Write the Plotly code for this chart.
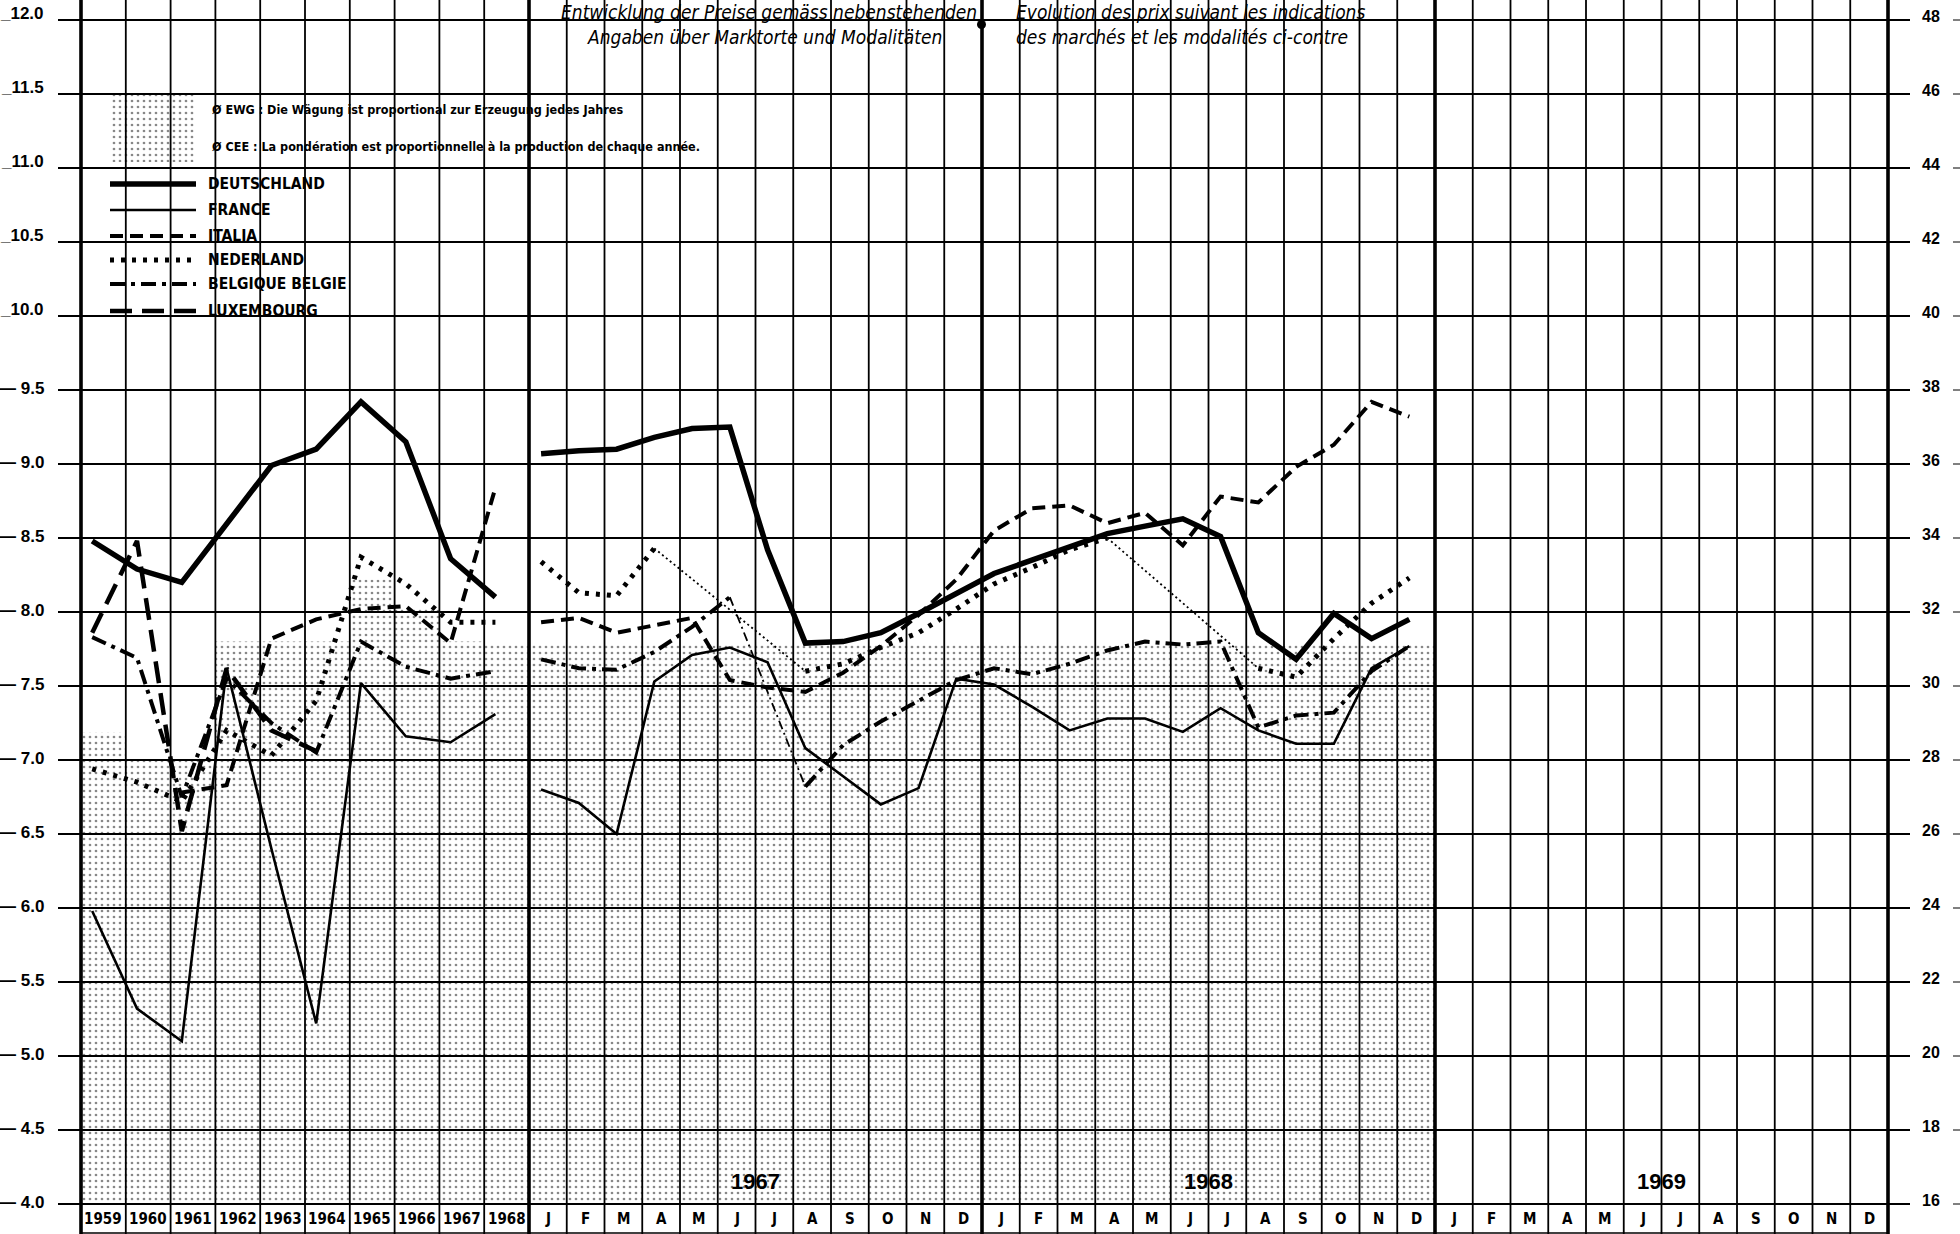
import plotly.graph_objects as go

# ---------------- data ----------------
YEARS = ["1959", "1960", "1961", "1962", "1963", "1964", "1965", "1966", "1967", "1968"]
MONTHS = ["J", "F", "M", "A", "M", "J", "J", "A", "S", "O", "N", "D"]
BLOCK_YEARS = ["1967", "1968", "1969"]
LEFT_TICKS = [12.0, 11.5, 11.0, 10.5, 10.0, 9.5, 9.0, 8.5, 8.0, 7.5, 7.0, 6.5, 6.0, 5.5, 5.0, 4.5, 4.0]
RIGHT_TICKS = [48, 46, 44, 42, 40, 38, 36, 34, 32, 30, 28, 26, 24, 22, 20, 18, 16]

# yearly values 1959-1968
DE_Y = [8.48, 8.29, 8.20, 8.60, 8.99, 9.10, 9.42, 9.15, 8.36, 8.10]
FR_Y = [5.98, 5.32, 5.10, 7.62, 6.40, 5.22, 7.52, 7.16, 7.12, 7.31]
IT_Y = [None, None, 6.78, 6.83, 7.82, 7.95, 8.02, 8.04, 7.79, 8.84]
NL_Y = [6.94, 6.85, 6.72, 7.20, 7.03, 7.40, 8.37, 8.19, 7.93, 7.93]
BE_Y = [7.83, 7.69, 6.75, 7.55, 7.25, 7.05, 7.80, 7.63, 7.55, 7.60]
LU_Y = [7.86, 8.48, 6.52, 7.62, 7.20, 7.06, None, None, None, None]

# monthly values J 1967 ... D 1968
DE_M = [9.07, 9.09, 9.10, 9.18, 9.24, 9.25, 8.42, 7.79, 7.80, 7.86, 7.99, 8.13,
        8.26, 8.35, 8.44, 8.53, 8.58, 8.63, 8.51, 7.86, 7.68, 7.99, 7.82, 7.95]
FR_M = [6.80, 6.71, 6.50, 7.53, 7.71, 7.76, 7.66, 7.08, 6.89, 6.70, 6.81, 7.55,
        7.51, 7.36, 7.20, 7.28, 7.28, 7.19, 7.35, 7.20, 7.11, 7.11, 7.62, 7.77]
IT_M = [7.93, 7.96, 7.86, 7.91, 7.96, 7.54, 7.49, 7.46, 7.59, 7.77, 7.98, 8.22,
        8.55, 8.70, 8.72, 8.60, 8.67, 8.45, 8.78, 8.74, 8.98, 9.13, 9.42, 9.32]
NL_M = [8.34, 8.13, 8.11, 8.43, None, None, None, 7.60, 7.65, 7.76, 7.86, 8.02,
        8.19, 8.30, 8.42, 8.50, None, None, None, 7.62, 7.56, 7.82, 8.06, 8.23]
BE_M = [7.68, 7.62, 7.61, 7.73, 7.90, 8.10, None, 6.82, 7.10, 7.26, 7.40, 7.54,
        7.62, 7.58, 7.65, 7.74, 7.80, 7.78, 7.80, 7.22, 7.30, 7.32, 7.60, 7.77]
LU_M = [None, None, None, None, None, None, None, None, None, None, None, None,
        None, None, None, None, None, None, None, None, None, None, None, None]

# EEC weighted average (shaded area)
EWG_Y = [7.19, 7.00, 7.00, 7.80, 7.80, 7.80, 8.22, 8.03, 7.80, 7.78]
EWG_M = [7.79, 7.79, 7.79, 7.79, 7.79, 7.79, 7.79, 7.79, 7.79, 7.79, 7.79, 7.79,
         7.79, 7.79, 7.79, 7.79, 7.79, 7.79, 7.79, 7.79, 7.79, 7.79, 7.79, 7.79]

# ---------------- geometry ----------------
W, H = 1960, 1234
PX_L, PX_R, PX_T, PX_B = 81, 1888, 20, 1204
MO_X0 = 529
YR_W = (MO_X0 - PX_L) / len(YEARS)
N_MONTHS = 12 * len(BLOCK_YEARS)
MO_W = (PX_R - MO_X0) / N_MONTHS
Y_OFF, M_OFF = 0.25, 0.32


def year_x(i, f=Y_OFF):
    return PX_L + YR_W * (i + f)


def month_x(j, f=M_OFF):
    return MO_X0 + MO_W * (j + f)


def pxx(px):
    return (px - PX_L) / (PX_R - PX_L)


def pxy(py):
    return (PX_B - py) / (PX_B - PX_T)


def vy(v):
    return (v - 4.0) / 8.0


def px_to_val(py):
    return 12.0 - (py - PX_T) * 8.0 / (PX_B - PX_T)


fig = go.Figure()

# shaded EEC average (step area)
sx = [year_x(i, 0) for i in range(len(YEARS))] + [month_x(j, 0) for j in range(len(EWG_M))] + [month_x(len(EWG_M), 0)]
sy = EWG_Y + EWG_M + [EWG_M[-1]]
PATTERN = dict(shape=".", size=6, solidity=0.16, fgcolor="#111", bgcolor="rgba(255,255,255,0)", fillmode="overlay")
fig.add_trace(go.Scatter(x=sx, y=sy, mode="lines", line=dict(width=0, shape="hv", color="rgba(0,0,0,0)"),
                         fill="tozeroy", fillcolor="rgba(0,0,0,0)", fillpattern=PATTERN, hoverinfo="skip"))

STYLES = {
    "DEUTSCHLAND": dict(width=5.5, dash="solid"),
    "FRANCE": dict(width=2.6, dash="solid"),
    "ITALIA": dict(width=4, dash="13px,7px"),
    "NEDERLAND": dict(width=5, dash="4px,7px"),
    "BELGIQUE BELGIE": dict(width=4, dash="15px,6px,4px,6px"),
    "LUXEMBOURG": dict(width=4.5, dash="22px,10px"),
}
THIN = {
    "NEDERLAND": dict(width=1.8, dash="2px,3px"),
    "BELGIQUE BELGIE": dict(width=1.8, dash="9px,4px,2px,4px"),
}
SERIES = [("DEUTSCHLAND", DE_Y, DE_M), ("FRANCE", FR_Y, FR_M), ("ITALIA", IT_Y, IT_M),
          ("NEDERLAND", NL_Y, NL_M), ("BELGIQUE BELGIE", BE_Y, BE_M), ("LUXEMBOURG", LU_Y, LU_M)]

for name, yv, mv in SERIES:
    xs = [year_x(i) for i in range(len(yv))] + [None] + [month_x(j) for j in range(len(mv))]
    ys = list(yv) + [None] + list(mv)
    st = STYLES[name]
    fig.add_trace(go.Scatter(x=xs, y=ys, mode="lines", name=name, connectgaps=False,
                             line=dict(color="black", width=st["width"], dash=st["dash"])))
    # thin connectors across missing months
    if name in THIN:
        j = 0
        while j < len(mv):
            if mv[j] is None and j > 0 and mv[j - 1] is not None:
                k = j
                while k < len(mv) and mv[k] is None:
                    k += 1
                if k < len(mv):
                    t = THIN[name]
                    fig.add_trace(go.Scatter(x=[month_x(j - 1), month_x(k)], y=[mv[j - 1], mv[k]], mode="lines",
                                             line=dict(color="black", width=t["width"], dash=t["dash"])))
                j = k
            else:
                j += 1

# legend swatch for the shaded area
lx0, lx1 = 110, 196
fig.add_trace(go.Scatter(x=[lx0, lx1, lx1, lx0, lx0], y=[px_to_val(94), px_to_val(94), px_to_val(162), px_to_val(162), px_to_val(94)],
                         mode="lines", line=dict(width=0, color="rgba(0,0,0,0)"), fill="toself",
                         fillcolor="rgba(0,0,0,0)", fillpattern=PATTERN, hoverinfo="skip"))

shapes = []
LINE_W = 1.8
THICK_W = 3.6
# horizontal grid lines
for v in LEFT_TICKS:
    shapes.append(dict(type="line", xref="paper", yref="paper", x0=pxx(58), x1=pxx(1910), y0=vy(v), y1=vy(v),
                       line=dict(color="black", width=LINE_W), layer="above"))
    shapes.append(dict(type="line", xref="paper", yref="paper", x0=pxx(1953), x1=pxx(1960), y0=vy(v), y1=vy(v),
                       line=dict(color="black", width=1), layer="above"))
# bottom border of label row
shapes.append(dict(type="line", xref="paper", yref="paper", x0=pxx(PX_L), x1=pxx(PX_R), y0=pxy(1233), y1=pxy(1233),
                   line=dict(color="black", width=1.5), layer="above"))
# vertical grid lines
vlines = [(year_x(i, 0), i == 0) for i in range(len(YEARS))]
vlines += [(month_x(j, 0), j % 12 == 0) for j in range(N_MONTHS)]
vlines += [(PX_R, True)]
for xpx, thick in vlines:
    shapes.append(dict(type="line", xref="paper", yref="paper", x0=pxx(xpx), x1=pxx(xpx), y0=pxy(0), y1=pxy(1234),
                       line=dict(color="black", width=THICK_W if thick else LINE_W), layer="above"))

# legend samples
LEG_Y = [184, 210, 236, 260, 284, 311]
for (name, _, _), ly in zip(SERIES, LEG_Y):
    st = STYLES[name]
    shapes.append(dict(type="line", xref="paper", yref="paper", x0=pxx(lx0), x1=pxx(lx1), y0=pxy(ly), y1=pxy(ly),
                       line=dict(color="black", width=st["width"], dash=st["dash"]), layer="above"))

annotations = []
NUM_FONT = dict(family="Liberation Sans, Arial, sans-serif", size=17, color="black")
for v in LEFT_TICKS:
    txt = ("_" + f"{v:.1f}") if v >= 10 else ("— " + f"{v:.1f}")
    annotations.append(dict(xref="paper", yref="paper", x=pxx(46), y=vy(v), xanchor="right", yanchor="middle",
                            text="<b>" + txt + "</b>", showarrow=False, font=NUM_FONT,
                            yshift=7 if v >= 10 else 2))
for r in RIGHT_TICKS:
    annotations.append(dict(xref="paper", yref="paper", x=pxx(1920), y=vy(r / 4.0), xanchor="left", yanchor="middle",
                            text="<b>" + str(r) + "</b>", showarrow=False, font=dict(family="Liberation Sans, Arial", size=16, color="black"),
                            yshift=4))

CELL_FONT = dict(family="DejaVu Sans Condensed, Liberation Sans Narrow, sans-serif", size=15, color="black")
for i, yl in enumerate(YEARS):
    annotations.append(dict(xref="paper", yref="paper", x=pxx(year_x(i, 0.5)), y=pxy(1219), xanchor="center", yanchor="middle",
                            text="<b>" + yl + "</b>", showarrow=False, font=CELL_FONT))
for j in range(N_MONTHS):
    annotations.append(dict(xref="paper", yref="paper", x=pxx(month_x(j, 0.5)), y=pxy(1219), xanchor="center", yanchor="middle",
                            text="<b>" + MONTHS[j % 12] + "</b>", showarrow=False, font=CELL_FONT))
for b, by in enumerate(BLOCK_YEARS):
    annotations.append(dict(xref="paper", yref="paper", x=pxx(month_x(12 * b + 6, 0)), y=pxy(1181), xanchor="center", yanchor="middle",
                            text="<b>" + by + "</b>", showarrow=False,
                            font=dict(family="Liberation Sans Narrow, Liberation Sans, Arial", size=22, color="black")))

# legend texts
LEG_FONT = dict(family="DejaVu Sans Condensed, Liberation Sans Narrow, sans-serif", size=15.5, color="black")
for (name, _, _), ly in zip(SERIES, LEG_Y):
    annotations.append(dict(xref="paper", yref="paper", x=pxx(206), y=pxy(ly), xanchor="left", yanchor="middle",
                            text="<b>" + name + "</b>", showarrow=False, font=LEG_FONT))
NOTE_FONT = dict(family="DejaVu Sans Condensed, Liberation Sans Narrow, sans-serif", size=12.5, color="black")
annotations.append(dict(xref="paper", yref="paper", x=pxx(210), y=pxy(110), xanchor="left", yanchor="middle",
                        text="<b>Ø EWG : Die Wägung ist proportional zur Erzeugung jedes Jahres</b>", showarrow=False, font=NOTE_FONT))
annotations.append(dict(xref="paper", yref="paper", x=pxx(210), y=pxy(146), xanchor="left", yanchor="middle",
                        text="<b>Ø CEE : La pondération est proportionnelle à la production de chaque année.</b>", showarrow=False, font=NOTE_FONT))

# header texts
HEAD_FONT = dict(family="DejaVu Sans Condensed, Liberation Sans Narrow, sans-serif", size=19, color="black")
annotations.append(dict(xref="paper", yref="paper", x=pxx(979), y=pxy(12), xanchor="right", yanchor="middle",
                        text="<i>Entwicklung der Preise gemäss nebenstehenden</i>", showarrow=False, font=HEAD_FONT))
annotations.append(dict(xref="paper", yref="paper", x=pxx(944), y=pxy(37), xanchor="right", yanchor="middle",
                        text="<i>Angaben über Marktorte und Modalitäten</i>", showarrow=False, font=HEAD_FONT))
annotations.append(dict(xref="paper", yref="paper", x=pxx(1014), y=pxy(12), xanchor="left", yanchor="middle",
                        text="<i>Evolution des prix suivant les indications</i>", showarrow=False, font=HEAD_FONT))
annotations.append(dict(xref="paper", yref="paper", x=pxx(1014), y=pxy(37), xanchor="left", yanchor="middle",
                        text="<i>des marchés et les modalités ci-contre</i>", showarrow=False, font=HEAD_FONT))
shapes.append(dict(type="circle", xref="paper", yref="paper", x0=pxx(977), x1=pxx(986), y0=pxy(20), y1=pxy(29),
                   fillcolor="black", line=dict(color="black", width=0), layer="above"))

fig.update_layout(
    width=W, height=H,
    margin=dict(l=PX_L, r=W - PX_R, t=PX_T, b=H - PX_B, pad=0),
    paper_bgcolor="white", plot_bgcolor="white",
    showlegend=False,
    xaxis=dict(range=[PX_L, PX_R], visible=False, fixedrange=True),
    yaxis=dict(range=[4, 12], visible=False, fixedrange=True),
    shapes=shapes, annotations=annotations,
)

fig.write_html("out.html", config={"displayModeBar": False},
               post_script="document.body.style.margin='0px';document.body.style.overflow='hidden';")
